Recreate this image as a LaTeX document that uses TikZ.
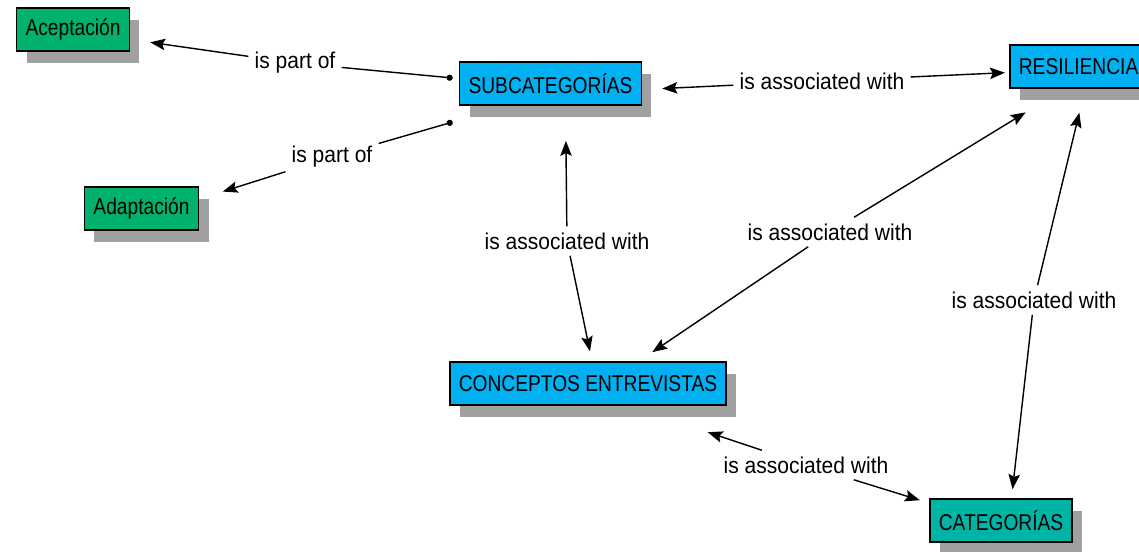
\documentclass[tikz,border=0pt]{standalone}
\usepackage{fontspec}
\setmainfont[FakeStretch=0.84]{Liberation Sans}
\newfontfamily\linkfont[FakeStretch=0.92]{Liberation Sans}
\usetikzlibrary{arrows.meta,shadows}
\definecolor{concgreen}{RGB}{0,178,108}
\definecolor{concblue}{RGB}{0,176,240}
\definecolor{concteal}{RGB}{0,180,165}
\definecolor{shadowgray}{RGB}{160,160,160}
\tikzset{
  concept/.style={draw=black,line width=1pt,minimum height=0.86cm,inner xsep=0.18cm,
    font=\fontsize{13pt}{15pt}\selectfont,
    drop shadow={shadow xshift=0.2cm,shadow yshift=-0.24cm,fill=shadowgray,opacity=1}},
  linklabel/.style={fill=white,inner sep=0.12cm,font=\linkfont\fontsize{13pt}{15pt}\selectfont},
  link/.style={line width=0.8pt},
  tip/.style={-{Stealth[length=8.5pt,width=6.5pt,inset=1.5pt]}},
  dot/.style={{Circle[length=3.5pt]}-}
}
\begin{document}
\begin{tikzpicture}
        \useasboundingbox (0,0) rectangle (22.78,11.02);
        % 概念节点
        \node[concept,fill=concgreen] (acep) at (1.46,10.43) {Aceptación};
        \node[concept,fill=concgreen] (adap) at (2.83,6.85) {Adaptación};
        \node[concept,fill=concblue] (sub) at (11.01,9.35) {SUBCATEGORÍAS};
        \node[concept,fill=concblue,anchor=west] (res) at (20.18,9.69) {RESILIENCIA};
        \node[concept,fill=concblue] (conc) at (11.76,3.35) {CONCEPTOS ENTREVISTAS};
        \node[concept,fill=concteal] (cat) at (20.02,0.61) {CATEGORÍAS};
        % 连线标签
        \node[linklabel] (l1) at (5.90,9.76) {is part of};
        \node[linklabel] (l2) at (6.64,7.88) {is part of};
        \node[linklabel] (l3) at (16.44,9.40) {is associated with};
        \node[linklabel] (l4) at (11.34,6.20) {is associated with};
        \node[linklabel] (l5) at (16.60,6.38) {is associated with};
        \node[linklabel] (l6) at (20.68,5.02) {is associated with};
        \node[linklabel] (l7) at (16.12,1.72) {is associated with};
        \coordinate (subA) at ([shift={(-0.12,0.11)}]sub.west);
        \coordinate (subB) at ([shift={(-0.12,-0.77)}]sub.west);
        % 连线
        \draw[link,dot] (subA) -- (l1);
        \draw[link,tip,shorten >=0.4cm] (l1) -- ([yshift=-0.2cm]acep.east);
        \draw[link,dot] (subB) -- (l2);
        \draw[link,tip,shorten >=0.49cm] (l2) -- ([yshift=0.19cm]adap.east);
        \draw[link,tip,shorten >=0.4cm] (l3) -- ([yshift=-0.12cm]sub.east);
        \draw[link,tip,shorten >=0.08cm] (l3) -- ([yshift=-0.12cm]res.west);
        \draw[link,tip,shorten >=0.7cm] (l4) -- ([xshift=0.3cm]sub.south);
        \draw[link,tip,shorten >=0.2cm] (l4) -- ([xshift=0.08cm]conc.north);
        \draw[link,tip,shorten >=0.32cm] (l5) -- ([xshift=1.02cm]conc.north);
        \draw[link,tip,shorten >=0.9cm] (l5) -- ([xshift=-0.29cm]res.south);
        \draw[link,tip,shorten >=0.49cm] (l6) -- ([xshift=0.13cm]res.south);
        \draw[link,tip,shorten >=0.18cm] (l6) -- ([xshift=0.21cm]cat.north);
        \draw[link,tip,shorten >=1.66cm] (l7) -- ([xshift=0.82cm]conc.south);
        \draw[link,tip,shorten >=0.19cm] (l7) -- ([yshift=0.35cm]cat.west);
    \end{tikzpicture}
\end{document}
